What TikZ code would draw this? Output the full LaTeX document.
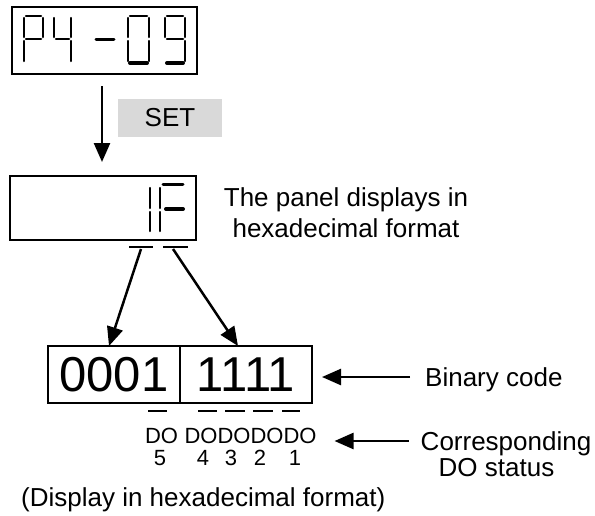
\documentclass[tikz,border=0pt]{standalone}
\usepackage{fontspec}
\setmainfont{Liberation Sans}
\usetikzlibrary{arrows.meta,positioning}
\definecolor{setgray}{RGB}{217,217,217}

\begin{document}
\begin{tikzpicture}[x=1pt,y=-1pt,
  box/.style={draw,line width=2pt,inner sep=0pt,outer sep=0pt},
  seg/.style={line width=2.5pt,line cap=round},
  segb/.style={line width=4pt,line cap=round},
  ul/.style={line width=1.5pt},
  arr/.style={line width=2.5pt,-{Triangle[length=19pt,width=16pt]}},
  lbl/.style={font=\fontsize{26}{31}\selectfont,inner sep=0pt},
  oneline/.style={text height=19pt,text depth=0pt},
  dolbl/.style={font=\fontsize{22}{26}\selectfont,inner sep=0pt,text height=16pt,text depth=0pt}]

\useasboundingbox (0,0) rectangle (595,515);

% ============ parameter display P4-09 ============
\node[box,minimum width=185pt,minimum height=67pt] (parbox) at (104.5,40.5) {};
% P
\draw[seg] (24,18) -- (24,37) (24,41) -- (24,61) (26,16) -- (41,16) (43,18) -- (43,37) (26,39) -- (41,39);
% 4
\draw[seg] (54,18) -- (54,37) (56,39) -- (69,39) (71,18) -- (71,37) (71,41) -- (71,61);
% -
\draw[seg,line width=3pt] (96,39) -- (114,39);
% 0
\draw[seg] (130,16) -- (147,16) (128,18) -- (128,37) (128,41) -- (128,61) (149,18) -- (149,37) (149,41) -- (149,61);
\draw[segb] (130,63) -- (147,63);
% 9
\draw[seg] (167,16) -- (183,16) (165,18) -- (165,37) (167,39) -- (183,39) (185,18) -- (185,37) (185,41) -- (185,61);
\draw[segb] (167,63) -- (183,63);

% ============ SET key ============
\coordinate (setfrom) at (102,86);
\coordinate (setto) at (102,162);
\draw[arr] (setfrom) -- (setto);
\node[lbl,fill=setgray,minimum width=104pt,minimum height=38pt] (setkey) at (170,118) {SET};

% ============ hex display 1F ============
\node[box,minimum width=186pt,minimum height=64pt] (hexbox) at (103,208) {};
\draw[seg] (150,188) -- (150,208) (150,212) -- (150,231) (160,188) -- (160,208) (160,212) -- (160,231);
\draw[seg,line width=3pt] (163,184) -- (183,184);
\draw[segb] (166,209) -- (183,209);
\node[lbl,align=center] (paneltxt) at (346,213) {The panel displays in\\hexadecimal format};

\draw[ul] (129,247) -- (153,247) (163,247) -- (188,247);
\coordinate (hexhi) at (141,249);
\coordinate (hexlo) at (173,249);

% ============ binary code ============
\node[box,minimum width=132pt,minimum height=57pt,font=\fontsize{49}{50}\selectfont] (binhi) at (114,374.5) {0001};
\node[box,minimum width=132pt,minimum height=57pt,font=\fontsize{49}{50}\selectfont,right=0pt of binhi] (binlo) {1111};
\draw[arr] (hexhi) -- ([xshift=-5pt]binhi.north);
\draw[arr] (hexlo) -- ([xshift=-8pt]binlo.north);

\foreach \a/\b in {148/167,198/217,225/245,253/273,282/300}{
  \draw[ul] (\a,411) -- (\b,411);
}
\node[dolbl] (do5) at (161.5,435) {DO};
\node[dolbl] (dorest) at (250.5,435) {DODODODO};
\foreach \n/\x in {5/160,4/203,3/231,2/260,1/295}{
  \node[dolbl] (num\n) at (\x,457) {\n};
}

\node[lbl,oneline,anchor=west] (bincode) at (425,377) {Binary code};
\draw[arr] ([xshift=-15pt]bincode.west) -- ([xshift=10pt]bincode.west -| binlo.east);

\node[lbl,oneline] (corrtxt) at (506,441) {Corresponding};
\node[lbl,oneline] (dostatus) at (496.5,467) {DO status};
\draw[arr] ([xshift=-12pt]corrtxt.west) -- ([xshift=-86pt]corrtxt.west);

\node[lbl,oneline,anchor=west] (caption) at (21,497) {(Display in hexadecimal format)};

\end{tikzpicture}
\end{document}
